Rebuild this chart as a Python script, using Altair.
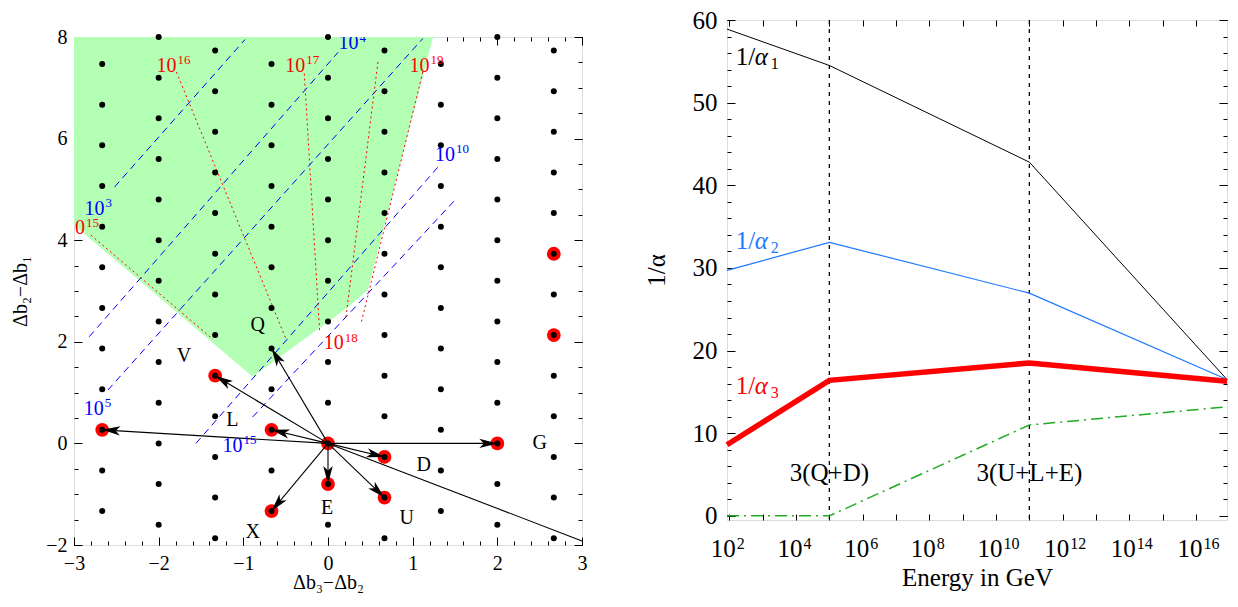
import math
import altair as alt
import pandas as pd

FONT = "Liberation Serif"

# ---------------- left panel data ----------------
lattice_a_x = [-2.0, 0.0, 2.0]
lattice_a_y = [-1.6, -0.8, 0.0, 0.8, 1.6, 2.4, 3.2, 4.0, 4.8, 5.6, 6.4, 7.2, 8.0]
lattice_b_x = [-1.333, 0.667, 2.667]
lattice_b_y = [-1.867, -1.067, -0.267, 0.533, 1.333, 2.133, 2.933, 3.733, 4.533, 5.333, 6.133, 6.933, 7.733]
lattice_c_x = [-2.667, -0.667, 1.333]
lattice_c_y = [-1.333, -0.533, 0.267, 1.067, 1.867, 2.667, 3.467, 4.267, 5.067, 5.867, 6.667, 7.467]

red_x = [0.0, -2.667, -1.333, -0.667, 2.0, 0.667, 0.0, 0.667, -0.667, 2.667, 2.667]
red_y = [0.0, 0.267, 1.333, 0.267, 0.0, -0.267, -0.8, -1.067, -1.333, 2.133, 3.733]

arrow_x = [-2.667, -1.333, -0.667, -0.667, 2.0, 0.667, 0.0, 0.667, -0.667]
arrow_y = [0.267, 1.333, 1.867, 0.267, 0.0, -0.267, -0.8, -1.067, -1.333]
ray_x = [3.0]
ray_y = [-1.92]

green_x = [-3.0, -0.89, 0.22, 0.47, 1.24]
green_y = [4.3, 1.31, 2.66, 3.02, 8.0]
green_top = [8.0, 8.0, 8.0, 8.0, 8.0]

blue_x1 = [-2.52, -2.82, -2.60, -1.56, -0.89]
blue_y1 = [5.05, 2.10, 1.05, 0.00, 0.52]
blue_x2 = [-0.98, 0.12, 1.12, 1.33, 1.50]
blue_y2 = [7.95, 7.70, 7.97, 5.50, 4.79]

reddot_x1 = [-2.80, -1.79, -0.28, 0.59, 1.12]
reddot_y1 = [4.10, 7.31, 7.28, 7.51, 7.31]
reddot_x2 = [-1.36, -0.49, -0.10, 0.21, 0.39]
reddot_y2 = [2.05, 2.03, 2.23, 2.45, 2.36]

sup_x = [-2.87, -1.79, -0.27, 0.185, 1.20, -2.64, 0.36, -2.65, 1.50, -1.01]
sup_y = [4.12, 7.32, 7.32, 1.85, 7.32, 4.50, 7.76, 0.56, 5.56, -0.16]
sup_exp = ["15", "16", "17", "18", "19", "3", "4", "5", "10", "15"]
sup_color = ["#ff0000"] * 5 + ["#0000ff"] * 5

letter_text = ["Q", "V", "L", "G", "D", "E", "U", "X"]
letter_x = [-0.83, -1.70, -1.13, 2.50, 1.13, -0.01, 0.93, -0.89]
letter_y = [2.33, 1.72, 0.46, 0.01, -0.43, -1.28, -1.46, -1.74]

lx_major = [-3, -2, -1, 0, 1, 2, 3]
ly_major = [-2, 0, 2, 4, 6, 8]
lx_minor = [round(-3 + 0.2 * i, 2) for i in range(31)]
ly_minor = [round(-2 + 0.5 * i, 2) for i in range(21)]

# ---------------- right panel data ----------------
energy = [85.0, 1e5, 1e11, 8.5e16]
inv_alpha1 = [58.9, 54.5, 42.8, 16.5]
inv_alpha2 = [29.7, 33.1, 26.95, 16.5]
inv_alpha3 = [8.6, 16.4, 18.5, 16.3]
green_curve = [0.0, 0.0, 11.0, 13.2]
thresholds = [1e5, 1e11]
threshold_labels = ["3(Q+D)", "3(U+L+E)"]
threshold_label_y = [4.2, 4.2]
alpha_label_x = [155.0, 155.0, 155.0]
alpha_label_y = [54.6, 32.3, 14.8]
alpha_label_sub = ["1", "2", "3"]
alpha_label_color = ["#000000", "#1e78ff", "#ff0000"]

decades = [10.0 ** k for k in range(2, 17)]
even_decades = [10.0 ** k for k in range(2, 17, 2)]
exp_labels = ["2", "4", "6", "8", "10", "12", "14", "16"]
ry_major = [0, 10, 20, 30, 40, 50, 60]
ry_minor = list(range(0, 61, 2))

# ---------------- sizes ----------------
LW, LH = 508, 508
RW, RH = 500, 500
LEFT_DROP = 6


def tick_axis(orient, values, size):
    return alt.Axis(orient=orient, values=values, tickSize=size, offset=-size,
                    domain=False, grid=False, labels=False, title=None,
                    tickColor="black", tickWidth=1, minExtent=0, maxExtent=0)


def label_axis(orient, values, size, fs, pad, title, tpad, ext, **kw):
    return alt.Axis(orient=orient, values=values, tickSize=size, offset=-size,
                    domain=False, grid=False, labelFontSize=fs, labelPadding=pad,
                    labelFlush=False, labelOverlap=False, labelColor="black",
                    labelFont=FONT, tickColor="black", tickWidth=1,
                    title=title, titleFontSize=fs, titleFont=FONT,
                    titleFontWeight="normal", titleColor="black",
                    titlePadding=tpad, minExtent=ext, maxExtent=ext, **kw)


# ======== left panel ========
xsc = alt.Scale(domain=[-3, 3], nice=False, zero=False)
ysc = alt.Scale(domain=[-2, 8], nice=False, zero=False)

rows = []
for cx, cy in ((lattice_a_x, lattice_a_y), (lattice_b_x, lattice_b_y), (lattice_c_x, lattice_c_y)):
    for x in cx:
        for y in cy:
            rows.append((x, y))
dots_df = pd.DataFrame(rows, columns=["x", "y"])
red_df = pd.DataFrame({"x": red_x, "y": red_y})
green_df = pd.DataFrame({"x": green_x, "y": green_y, "top": green_top})
blue_df = pd.DataFrame({"x": blue_x1, "y": blue_y1, "x2": blue_x2, "y2": blue_y2})
reddot_df = pd.DataFrame({"x": reddot_x1, "y": reddot_y1, "x2": reddot_x2, "y2": reddot_y2})

sx, sy = LW / 6.0, LH / 10.0
angles = [(math.degrees(math.atan2(ax * sx, ay * sy)) + 360.0) % 360.0 for ax, ay in zip(arrow_x, arrow_y)]
arrow_df = pd.DataFrame({"x0": [0.0] * len(arrow_x), "y0": [0.0] * len(arrow_x),
                         "x": arrow_x, "y": arrow_y, "ang": angles})
ray_df = pd.DataFrame({"x0": [0.0], "y0": [0.0], "x": ray_x, "y": ray_y})
sup_df = pd.DataFrame({"x": sup_x, "y": sup_y, "exp": sup_exp, "c": sup_color, "base": ["10"] * len(sup_x)})
letter_df = pd.DataFrame({"x": letter_x, "y": letter_y, "t": letter_text})

ax_lb = label_axis("bottom", lx_major, 8, 20, 8, "Δb₃−Δb₂", 5, 30, format="d")
ax_ll = label_axis("left", ly_major, 8, 20, 7, "Δb₂−Δb₁", 12, 40, format="d")

green_layer = alt.Chart(green_df).mark_area(color="#b3ffb3", opacity=1).encode(
    x=alt.X("x:Q", scale=xsc, axis=ax_lb),
    y=alt.Y("y:Q", scale=ysc, axis=ax_ll),
    y2="top:Q",
)
blue_layer = alt.Chart(blue_df).mark_rule(color="#0000ff", strokeWidth=1, strokeDash=[7, 5]).encode(
    x=alt.X("x:Q", scale=xsc, axis=tick_axis("top", lx_minor, 4)),
    y=alt.Y("y:Q", scale=ysc, axis=tick_axis("right", ly_minor, 4)),
    x2="x2:Q", y2="y2:Q",
)
reddot_layer = alt.Chart(reddot_df).mark_rule(color="#ff0000", strokeWidth=1, strokeDash=[2, 3]).encode(
    x=alt.X("x:Q", scale=xsc, axis=None),
    y=alt.Y("y:Q", scale=ysc, axis=None),
    x2="x2:Q", y2="y2:Q",
)
red_layer = alt.Chart(red_df).mark_circle(color="#ff0000", size=190, opacity=1).encode(
    x=alt.X("x:Q", scale=xsc, axis=tick_axis("top", lx_major, 8)),
    y=alt.Y("y:Q", scale=ysc, axis=tick_axis("right", ly_major, 8)),
)
dots_layer = alt.Chart(dots_df).mark_circle(color="black", size=36, opacity=1).encode(
    x=alt.X("x:Q", scale=xsc, axis=tick_axis("bottom", lx_minor, 4)),
    y=alt.Y("y:Q", scale=ysc, axis=tick_axis("left", ly_minor, 4)),
)
arrow_layer = alt.Chart(arrow_df).mark_rule(color="black", strokeWidth=1.1).encode(
    x=alt.X("x0:Q", scale=xsc, axis=None), y=alt.Y("y0:Q", scale=ysc, axis=None),
    x2="x:Q", y2="y:Q",
)
ray_layer = alt.Chart(ray_df).mark_rule(color="black", strokeWidth=1.1).encode(
    x=alt.X("x0:Q", scale=xsc, axis=None), y=alt.Y("y0:Q", scale=ysc, axis=None),
    x2="x:Q", y2="y:Q",
)
ARROW = "M0,0L0.47,1.8L0,1.35L-0.47,1.8Z"
head_layer = alt.Chart(arrow_df).mark_point(shape=ARROW, filled=True, color="black",
                                            size=400, opacity=1, strokeWidth=0).encode(
    x=alt.X("x:Q", scale=xsc, axis=None), y=alt.Y("y:Q", scale=ysc, axis=None),
    angle=alt.Angle("ang:Q", scale=None),
)
letter_layer = alt.Chart(letter_df).mark_text(font=FONT, fontSize=20, color="black",
                                              align="center", baseline="middle").encode(
    x=alt.X("x:Q", scale=xsc, axis=None), y=alt.Y("y:Q", scale=ysc, axis=None), text="t:N",
)
sup_base = alt.Chart(sup_df).mark_text(font=FONT, fontSize=20, align="right",
                                       baseline="alphabetic", clip=True).encode(
    x=alt.X("x:Q", scale=xsc, axis=None), y=alt.Y("y:Q", scale=ysc, axis=None),
    text="base:N", color=alt.Color("c:N", scale=None),
)
sup_exp_layer = alt.Chart(sup_df).mark_text(font=FONT, fontSize=13, align="left",
                                            baseline="alphabetic", dx=1, dy=-7.5, clip=True).encode(
    x=alt.X("x:Q", scale=xsc, axis=None), y=alt.Y("y:Q", scale=ysc, axis=None),
    text="exp:N", color=alt.Color("c:N", scale=None),
)

left_panel = alt.layer(
    green_layer, blue_layer, reddot_layer, red_layer, dots_layer,
    arrow_layer, ray_layer, head_layer, letter_layer, sup_base, sup_exp_layer,
).resolve_axis(x="independent", y="independent").properties(width=LW, height=LH)

spacer = alt.Chart(pd.DataFrame({"v": [0]})).mark_point(opacity=0, size=1).properties(
    width=LW, height=LEFT_DROP, view=alt.ViewBackground(strokeWidth=0, strokeOpacity=0)
)
left = alt.vconcat(spacer, left_panel, spacing=0)

# ======== right panel ========
exsc = alt.Scale(type="log", domain=[85.0, 8.5e16], nice=False)
eysc = alt.Scale(domain=[-0.5, 60], nice=False, zero=False)

line_df = pd.DataFrame({"e": energy, "a1": inv_alpha1, "a2": inv_alpha2,
                        "a3": inv_alpha3, "g": green_curve})
thr_df = pd.DataFrame({"e": thresholds, "t": threshold_labels, "y": threshold_label_y})
alab_df = pd.DataFrame({"e": alpha_label_x, "y": alpha_label_y, "s": alpha_label_sub,
                        "c": alpha_label_color, "one": ["1/"] * 3, "al": ["α"] * 3})

base_expr = "round(log(datum.value)/LN10) % 2 == 0 ? '10' : ''"
ax_rb = label_axis("bottom", decades, 6, 25, 36, "Energy in GeV", 11, 40,
                   labelExpr=base_expr, labelAlign="right", labelOffset=6,
                   labelBaseline="alphabetic")
ax_rl = label_axis("left", ry_major, 8, 25, 10, "1/α", 16, 50, format="d")
ax_rexp = alt.Axis(orient="bottom", values=even_decades, ticks=False, tickSize=0, offset=0,
                   domain=False, grid=False, labelFontSize=16, labelFont=FONT,
                   labelColor="black", labelAlign="left", labelOffset=7,
                   labelPadding=28, labelBaseline="alphabetic", labelFlush=False,
                   labelOverlap=False, title=None, minExtent=0, maxExtent=45,
                   labelExpr=f"{exp_labels}[round(log(datum.value)/LN10/2) - 1]")

thr_rule = alt.Chart(thr_df).mark_rule(color="black", strokeWidth=1.3, strokeDash=[4, 5]).encode(
    x=alt.X("e:Q", scale=exsc, axis=None),
)
l1 = alt.Chart(line_df).mark_line(color="black", strokeWidth=1).encode(
    x=alt.X("e:Q", scale=exsc, axis=ax_rb), y=alt.Y("a1:Q", scale=eysc, axis=ax_rl),
)
l2 = alt.Chart(line_df).mark_line(color="#1e78ff", strokeWidth=1.2).encode(
    x=alt.X("e:Q", scale=exsc, axis=ax_rexp),
    y=alt.Y("a2:Q", scale=eysc, axis=tick_axis("left", ry_minor, 4)),
)
l3 = alt.Chart(line_df).mark_line(color="#ff0000", strokeWidth=5.5).encode(
    x=alt.X("e:Q", scale=exsc, axis=tick_axis("top", decades, 6)),
    y=alt.Y("a3:Q", scale=eysc, axis=tick_axis("right", ry_major, 8)),
)
l4 = alt.Chart(line_df).mark_line(color="#22aa22", strokeWidth=1.5, strokeDash=[12, 5, 2, 5]).encode(
    x=alt.X("e:Q", scale=exsc, axis=None),
    y=alt.Y("g:Q", scale=eysc, axis=tick_axis("right", ry_minor, 4)),
)
thr_text = alt.Chart(thr_df).mark_text(font=FONT, fontSize=25, color="black",
                                       align="center", baseline="alphabetic").encode(
    x=alt.X("e:Q", scale=exsc, axis=None), y=alt.Y("y:Q", scale=eysc, axis=None), text="t:N",
)
a_one = alt.Chart(alab_df).mark_text(font=FONT, fontSize=25, align="left", baseline="alphabetic").encode(
    x=alt.X("e:Q", scale=exsc, axis=None), y=alt.Y("y:Q", scale=eysc, axis=None),
    text="one:N", color=alt.Color("c:N", scale=None),
)
a_al = alt.Chart(alab_df).mark_text(font=FONT, fontSize=25, fontStyle="italic", align="left",
                                    baseline="alphabetic", dx=19).encode(
    x=alt.X("e:Q", scale=exsc, axis=None), y=alt.Y("y:Q", scale=eysc, axis=None),
    text="al:N", color=alt.Color("c:N", scale=None),
)
a_sub = alt.Chart(alab_df).mark_text(font=FONT, fontSize=16, align="left",
                                     baseline="alphabetic", dx=35, dy=4).encode(
    x=alt.X("e:Q", scale=exsc, axis=None), y=alt.Y("y:Q", scale=eysc, axis=None),
    text="s:N", color=alt.Color("c:N", scale=None),
)

right = alt.layer(
    thr_rule, l1, l2, l3, l4, thr_text, a_one, a_al, a_sub,
).resolve_axis(x="independent", y="independent").properties(width=RW, height=RH)

chart = alt.hconcat(left, right, spacing=55).properties(
    padding={"left": 1, "top": -1, "right": -9, "bottom": 2}
).configure_view(stroke="#222222", strokeWidth=1).configure(font=FONT)

chart.save("out.html", embed_options={"renderer": "svg", "actions": False})
